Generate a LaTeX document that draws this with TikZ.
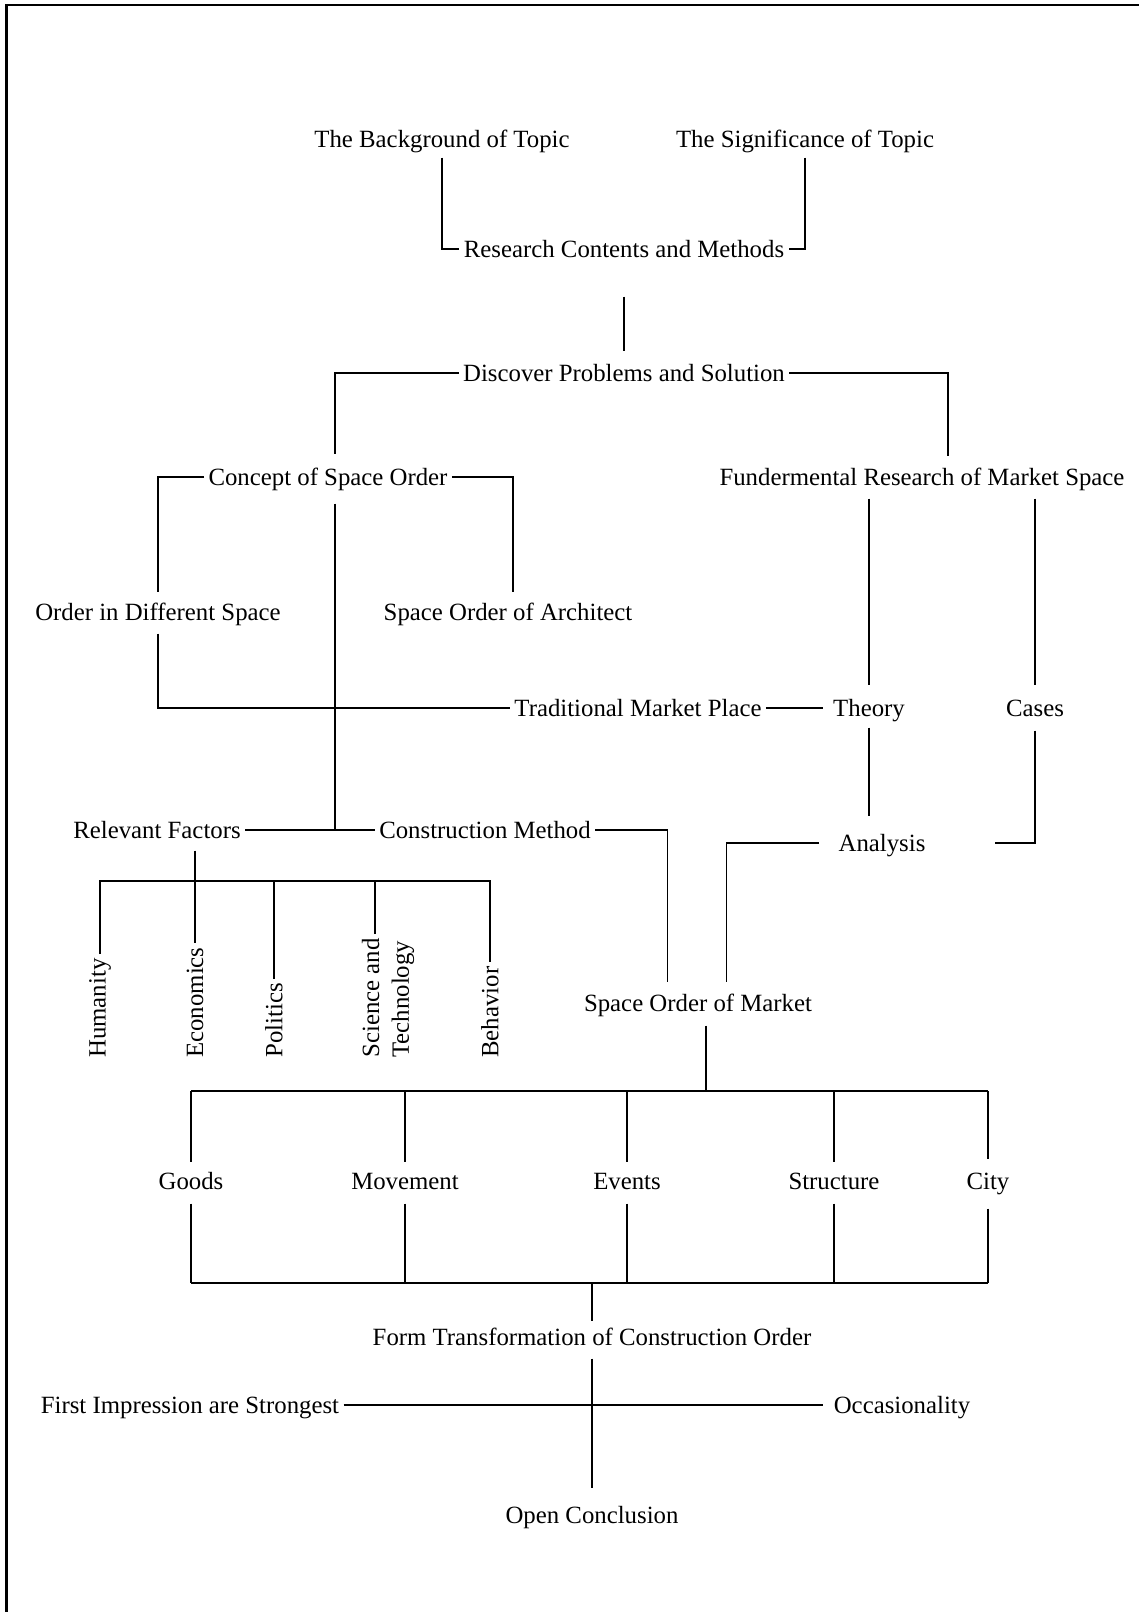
\documentclass[tikz,border=0pt]{standalone}
\usepackage{fontspec}
\setmainfont{Liberation Serif}

\begin{document}
\begin{tikzpicture}[
            x = 0.5pt, y = -0.5pt,
            every node/.style={text height=8.2pt, text depth=0pt, inner xsep=2pt, inner ysep=0pt, font=\fontsize{12.4}{14.9}\selectfont},
            line/.style={line width = .8pt},
            side/.style={rotate=90, anchor=west, align=left, text height={}, text depth={}},
            ]

        \useasboundingbox (0, 0) rectangle (1139, 1612);
        \draw[line width = 1.3pt] (6.5, 1612) -- (6.5, 5) -- (1139, 5);

        \node (bg) at (442, 139) {The Background of Topic};
        \node (sig) at (805, 139) {The Significance of Topic};
        \node (rcm) at (624, 249) {Research Contents and Methods};
        \node (dps) at (624, 373) {Discover Problems and Solution};
        \node (cso) at (328, 477) {Concept of Space Order};
        \node (frms) at (922, 477) {Fundermental Research of Market Space};
        \node (odsp) at (158, 612) {Order in Different Space};
        \node (soa) at (508, 612) {Space Order of Architect};
        \node (tmp) at (638, 708) {Traditional Market Place};
        \node (th) at (869, 708) {Theory};
        \node (cs) at (1035, 708) {Cases};
        \node (rf) at (157, 830) {Relevant Factors};
        \node (cm) at (485, 830) {Construction Method};
        \node (an) at (882, 843) {Analysis};
        \node (som) at (698, 1003) {Space Order of Market};

        \node[side] (hum) at (100, 1062) {Humanity};
        \node[side] (eco) at (195, 1062) {Economics};
        \node[side] (pol) at (274, 1062) {Politics};
        \node[side] (sci) at (388, 1062) {Science and\\Technology};
        \node[side] (beh) at (490, 1062) {Behavior};

        \node (goods) at (191, 1181) {Goods};
        \node (mov) at (405, 1181) {Movement};
        \node (ev) at (627, 1181) {Events};
        \node (str) at (834, 1181) {Structure};
        \node (city) at (988, 1181) {City};
        \node (ftco) at (592, 1337) {Form Transformation of Construction Order};
        \node (fis) at (190, 1405) {First Impression are Strongest};
        \node (occ) at (902, 1405) {Occasionality};
        \node (oc) at (592, 1515) {Open Conclusion};

        \coordinate (fbar) at (195, 881);
        \coordinate (mbar) at (706, 1091);
        \coordinate (lbar) at (592, 1283);

        % top
        \draw[line, shorten <=5pt] (bg.south) |- (rcm.west);
        \draw[line, shorten <=5pt] (sig.south) |- (rcm.east);
        \draw[line, shorten <=19.5pt, shorten >=6.5pt] (rcm) -- (dps);
        \draw[line, shorten >=7pt] (dps.west) -| ([xshift=3.5pt]cso.north);
        \draw[line, shorten >=6pt] (dps.east) -| ([xshift=13pt]frms.north);

        % concept of space order
        \draw[line, shorten >=5.5pt] (cso.west) -| (odsp.north);
        \draw[line, shorten >=5.5pt] (cso.east) -| ([xshift=2.5pt]soa.north);
        \draw[line, shorten <=9pt] ([xshift=3.5pt]cso.south) -- ([xshift=3.5pt]cso.south |- rf.east);
        \draw[line, shorten <=6.5pt] (odsp.south) |- (tmp.west);
        \draw[line, shorten >=3pt] (tmp.east) -- (th.west);

        % market space
        \draw[line, shorten <=6.5pt, shorten >=7pt] (th.north |- frms.south) -- (th.north);
        \draw[line, shorten <=6.5pt, shorten >=7pt] (cs.north |- frms.south) -- (cs.north);
        \draw[line, shorten <=5.5pt, shorten >=9pt] (th.south) -- (th.south |- an.north);
        \draw[line, shorten <=7pt] (cs.south) |- ([xshift=32.5pt]an.east);
        \draw[line, shorten <=7.5pt, shorten >=6pt] (an.west) -| ([xshift=14.25pt]som.north);

        % factors and method
        \draw[line] (rf.east) -- (cm.west);
        \draw[line, shorten >=6pt] (cm.east) -| ([xshift=-15.25pt]som.north);
        \draw[line, shorten <=6pt] (eco.east |- rf.south) -- (eco.east);
        \draw[line] (hum.east) -- (hum.east |- fbar) -- (beh.east |- fbar) -- (beh.east);
        \draw[line] (pol.east) -- (pol.east |- fbar);
        \draw[line] ([xshift=-6.5pt]sci.east) -- ([xshift=-6.5pt]sci.east |- fbar);

        % space order of market
        \draw[line, shorten <=7pt] ([xshift=4pt]som.south) -- ([xshift=4pt]som.south |- mbar);
        \draw[line] (goods.north |- mbar) -- (city.north |- mbar);
        \draw[line, shorten >=5pt] (goods.north |- mbar) -- (goods.north);
        \draw[line, shorten >=5pt] (mov.north |- mbar) -- (mov.north);
        \draw[line, shorten >=5pt] (ev.north |- mbar) -- (ev.north);
        \draw[line, shorten >=5pt] (str.north |- mbar) -- (str.north);
        \draw[line, shorten >=6.5pt] (city.north |- mbar) -- (city.north);

        \draw[line] (goods.south |- lbar) -- (city.south |- lbar);
        \draw[line, shorten <=7pt] (goods.south) -- (goods.south |- lbar);
        \draw[line, shorten <=7pt] (mov.south) -- (mov.south |- lbar);
        \draw[line, shorten <=7pt] (ev.south) -- (ev.south |- lbar);
        \draw[line, shorten <=7pt] (str.south) -- (str.south |- lbar);
        \draw[line, shorten <=9.5pt] (city.south) -- (city.south |- lbar);

        % bottom
        \draw[line, shorten >=3.5pt] (lbar) -- (ftco.north);
        \draw[line, shorten <=6.5pt, shorten >=9pt] (ftco) -- (oc);
        \draw[line, shorten >=3pt] (fis) -- (occ);
    \end{tikzpicture}
\end{document}
